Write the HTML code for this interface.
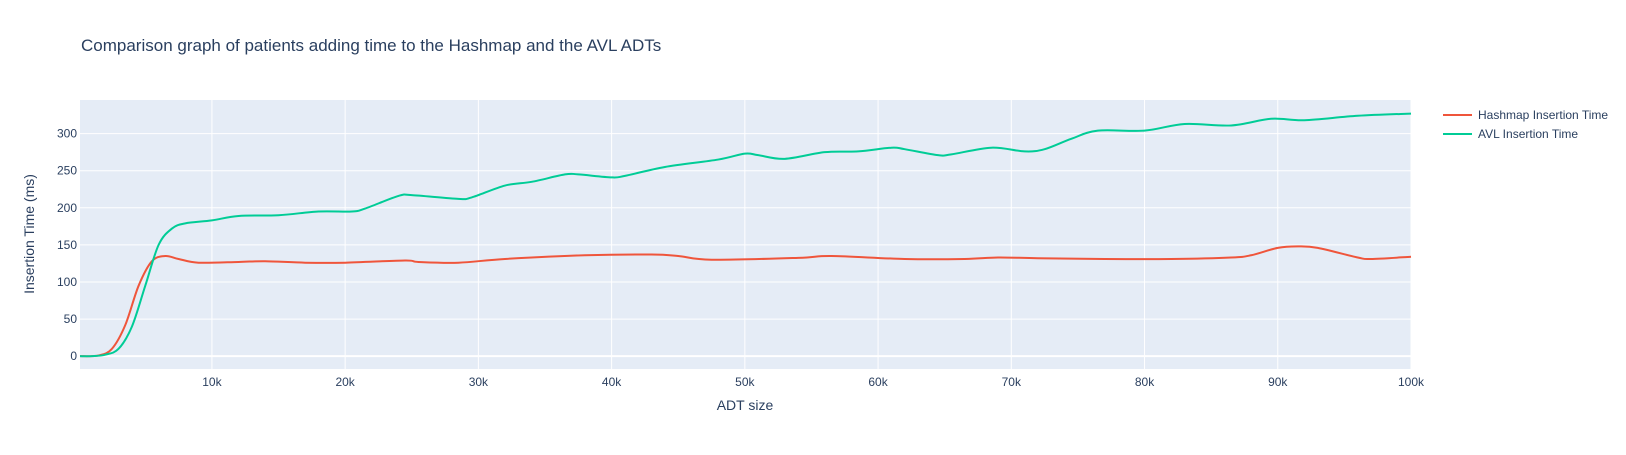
<!DOCTYPE html>
<html><head><meta charset="utf-8">
<style>
body{margin:0;background:#fff;font-family:"Liberation Sans",Arial,sans-serif;}
svg text{font-family:"Liberation Sans",Arial,sans-serif;fill:#2a3f5f;}
</style></head>
<body>
<svg id="chart" width="1626" height="450">
<text x="81" y="51" font-size="17">Comparison graph of patients adding time to the Hashmap and the AVL ADTs</text>
<rect x="80" y="100" width="1331" height="269" fill="#e5ecf6"/>
<g id="grid"></g>
<g id="series"></g>
<text x="745" y="410" font-size="14" text-anchor="middle">ADT size</text>
<text transform="translate(34,234) rotate(-90)" font-size="14" text-anchor="middle">Insertion Time (ms)</text>
<g>
<line x1="1443" y1="115" x2="1472" y2="115" stroke="#EF553B" stroke-width="2"/>
<text x="1478" y="119" font-size="12">Hashmap Insertion Time</text>
<line x1="1443" y1="134" x2="1472" y2="134" stroke="#00CC96" stroke-width="2"/>
<text x="1478" y="138" font-size="12">AVL Insertion Time</text>
</g>
</svg>
<script>
const xTicks=[10000,20000,30000,40000,50000,60000,70000,80000,90000,100000];
const xTickLabels=["10k","20k","30k","40k","50k","60k","70k","80k","90k","100k"];
const yTicks=[0,50,100,150,200,250,300];
const avlX=[100,1000,2000,3000,4000,5000,6000,7000,8000,10000,12000,15000,18000,20500,21500,24000,25000,28500,29500,32000,34000,36500,37500,40000,41000,44000,48000,50000,51000,53000,56000,58500,61000,62000,64500,65500,68500,71000,72500,74500,76500,80000,83000,86500,89500,92000,96000,100000];
const avlY=[0,0,2,10,40,95,150,172,179,183,189,190,195,195,199,216,217,212,214,230,235,245,245,241,243,255,265,273,271,266,275,276,281,279,271,272,281,276,279,293,304,304,313,311,320,318,324,327];
const hashX=[100,1500,2500,3500,4500,5500,6500,7500,9000,12000,14000,17000,20000,24500,25500,28500,32000,38000,43000,45000,47500,54000,56500,62000,66500,69000,72000,77000,82000,86500,88000,90000,91500,93000,96000,97000,100000];
const hashY=[0,1,10,42,95,128,135,131,126,127,128,126,126,129,127,126,131,136,137,135,130,132.5,135,131,131,133,132,131,131,133,136,146,148,146,133,131,134];
const X0=80,X1=1411,Y0=369,Y1=100,XMIN=100,XMAX=100000,YMIN=-17.3,YMAX=345.3;
const sx=v=>X0+(v-XMIN)/(XMAX-XMIN)*(X1-X0);
const sy=v=>Y0-(v-YMIN)/(YMAX-YMIN)*(Y0-Y1);
const NS="http://www.w3.org/2000/svg";
const grid=document.getElementById('grid');
xTicks.forEach((t,i)=>{
 const l=document.createElementNS(NS,'line');
 l.setAttribute('x1',sx(t));l.setAttribute('x2',sx(t));l.setAttribute('y1',Y1);l.setAttribute('y2',Y0);
 l.setAttribute('stroke','#fff');l.setAttribute('stroke-width','1');
 
 
 grid.appendChild(l);
 const tx=document.createElementNS(NS,'text');
 tx.setAttribute('x',sx(t));tx.setAttribute('y',Y0+17);tx.setAttribute('font-size','12');tx.setAttribute('text-anchor','middle');
 tx.textContent=xTickLabels[i];
 
 
 grid.appendChild(tx);
});
yTicks.forEach(t=>{
 const l=document.createElementNS(NS,'line');
 l.setAttribute('x1',X0);l.setAttribute('x2',X1);l.setAttribute('y1',sy(t));l.setAttribute('y2',sy(t));
 l.setAttribute('stroke','#fff');l.setAttribute('stroke-width',t===0?'2':'1');
 
 
 grid.appendChild(l);
 const tx=document.createElementNS(NS,'text');
 tx.setAttribute('x',X0-3);tx.setAttribute('y',sy(t)+4);tx.setAttribute('font-size','12');tx.setAttribute('text-anchor','end');
 tx.textContent=t;
 
 
 grid.appendChild(tx);
});
function pathFor(xs,ys){
 const p=xs.map((x,i)=>[sx(x),sy(ys[i])]);
 let d='M'+p[0][0]+','+p[0][1];
 for(let i=0;i<p.length-1;i++){
  const a=p[i-1]||p[i],b=p[i],c=p[i+1],e=p[i+2]||c;
  const c1=[b[0]+(c[0]-a[0])/6,b[1]+(c[1]-a[1])/6],c2=[c[0]-(e[0]-b[0])/6,c[1]-(e[1]-b[1])/6];
  d+=' C'+c1+' '+c2+' '+c;
 }
 return d;
}
const ser=document.getElementById('series');
const ph=document.createElementNS(NS,'path');
ph.setAttribute('d',pathFor(hashX,hashY));ph.setAttribute('fill','none');ph.setAttribute('stroke','#EF553B');ph.setAttribute('stroke-width','2');


ser.appendChild(ph);
const pa=document.createElementNS(NS,'path');
pa.setAttribute('d',pathFor(avlX,avlY));pa.setAttribute('fill','none');pa.setAttribute('stroke','#00CC96');pa.setAttribute('stroke-width','2');


ser.appendChild(pa);
</script>
</body></html>
